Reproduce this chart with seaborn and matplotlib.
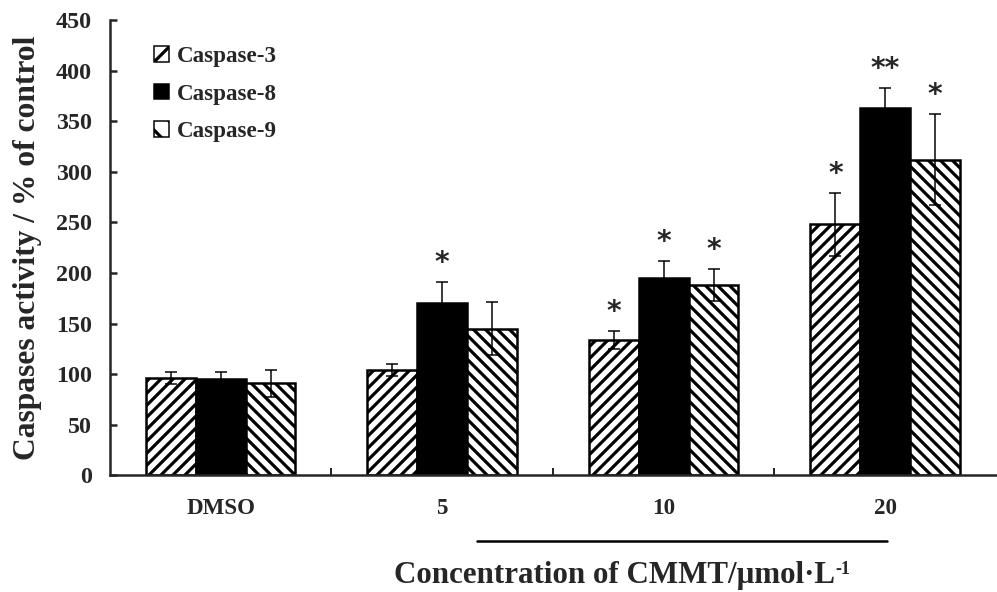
import numpy as np
import pandas as pd
import seaborn as sns
import matplotlib
matplotlib.use('Agg')
from matplotlib import pyplot as plt
import matplotlib.patches as mpatches

# Data
concentrations = ['DMSO', '5', '10', '20']
caspases = ['Caspase-3', 'Caspase-8', 'Caspase-9']
caspase3 = [96, 104, 134, 248]
caspase8 = [95, 170, 195, 363]
caspase9 = [91, 145, 188, 312]
caspase3_err = [6, 6, 9, 31]
caspase8_err = [7, 21, 17, 20]
caspase9_err = [13, 26, 16, 45]
# significance marks above each bar (one list per caspase, one entry per concentration)
marks3 = ['', '', '*', '*']
marks8 = ['', '*', '*', '**']
marks9 = ['', '', '*', '*']

values = [caspase3, caspase8, caspase9]
errors = [caspase3_err, caspase8_err, caspase9_err]
marks = [marks3, marks8, marks9]

rows = []
for name, vals in zip(caspases, values):
    for c, v in zip(concentrations, vals):
        rows.append({'conc': c, 'caspase': name, 'value': v})
df = pd.DataFrame(rows)

sns.set_style('ticks')
plt.rcParams['font.family'] = ['Liberation Serif', 'DejaVu Serif']
plt.rcParams['font.weight'] = 'bold'
plt.rcParams['hatch.linewidth'] = 3.2
plt.rcParams['hatch.color'] = 'black'

fig = plt.figure(figsize=(997 / 72, 592 / 72), dpi=72)
ax = fig.add_axes([0.1103, 0.1968, 0.8887, 0.7694])

sns.barplot(data=df, x='conc', y='value', hue='caspase', order=concentrations,
            hue_order=caspases, palette=['white', 'black', 'white'],
            edgecolor='black', linewidth=2.5, width=0.675, errorbar=None,
            legend=False, ax=ax)

hatches = ['//', '', '\\\\']
for cont, h, errs, mk in zip(ax.containers, hatches, errors, marks):
    xs = []
    ys = []
    for bar in cont:
        bar.set_hatch(h)
        xs.append(bar.get_x() + bar.get_width() / 2)
        ys.append(bar.get_height())
    ax.errorbar(xs, ys, yerr=errs, fmt='none', ecolor='black', elinewidth=1.5,
                capsize=6, capthick=1.5, zorder=5)
    for x, y, e, m in zip(xs, ys, errs, mk):
        if m:
            ax.text(x, y + e + 5, m, ha='center', va='bottom', fontsize=28,
                    family='DejaVu Sans', fontweight='bold')

ax.set_xlim(-0.5, 3.5)
ax.set_ylim(0, 450)
ax.set_yticks(np.arange(0, 451, 50))
ax.set_xticks([0.5, 1.5, 2.5], minor=True)
ax.tick_params(axis='x', which='major', length=0, pad=23, labelsize=23)
ax.tick_params(axis='x', which='minor', direction='in', length=7, width=2)
ax.tick_params(axis='y', direction='in', length=7, width=2.5, pad=18, labelsize=24)
for lab in ax.get_xticklabels() + ax.get_yticklabels():
    lab.set_fontweight('bold')

sns.despine(ax=ax)
ax.spines['left'].set_linewidth(2.5)
ax.spines['bottom'].set_linewidth(2.5)

ax.set_ylabel('Caspases activity / % of control', fontsize=31.5, fontweight='bold')
ax.yaxis.set_label_coords(-0.077, 0.5)
ax.set_xlabel('Concentration of CMMT/\u03bcmol\u00b7L', fontsize=31, fontweight='bold')
ax.xaxis.set_label_coords(0.569, -0.187)
ax.annotate('-1', xy=(1, 1), xycoords=ax.xaxis.label, xytext=(1, 0),
            textcoords='offset points', ha='left', va='top', fontsize=18,
            fontweight='bold')

# underline bar between the tick labels and the axis title
ax.plot([0.414, 0.877], [-0.144, -0.144], transform=ax.transAxes, color='black',
        lw=2.5, clip_on=False)

handles = [mpatches.Patch(facecolor=fc, edgecolor='black', hatch=h, lw=1.5, label=n)
           for fc, h, n in zip(['white', 'black', 'white'], ['/', '', '\\'], caspases)]
ax.legend(handles=handles, loc='upper left', bbox_to_anchor=(0.05, 0.943),
          frameon=False, handlelength=0.65, handleheight=0.65,
          handletextpad=0.35, labelspacing=0.72, borderpad=0, borderaxespad=0,
          prop={'weight': 'bold', 'size': 23})

fig.savefig('out.png', dpi=72)
